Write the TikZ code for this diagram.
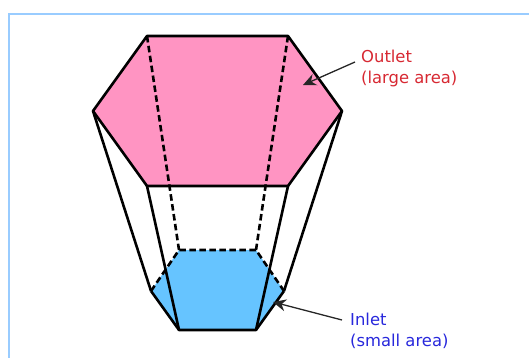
\documentclass[tikz,border=0pt]{standalone}
\usepackage{fontspec}
\setmainfont{DejaVu Sans}
\usepackage{tikz}
\usetikzlibrary{arrows.meta}
\definecolor{framecol}{RGB}{153,204,255}
\definecolor{outletcol}{RGB}{255,148,194}
\definecolor{inletcol}{RGB}{102,196,255}
\definecolor{outlettxt}{RGB}{215,40,50}
\definecolor{inlettxt}{RGB}{40,40,220}
\tikzset{edge/.style={black,line width=2.6pt,line join=round},
	hidden/.style={black,line width=2.6pt,dash pattern=on 6.5pt off 3.5pt},
	pointer/.style={black!85,line width=1.3pt,-{Stealth[length=13pt,width=12pt]}},
	label/.style={anchor=west,font=\fontsize{16.4}{21}\selectfont,align=left,inner sep=0pt}}

\begin{document}
\begin{tikzpicture}[x=1pt,y=-1pt]
	\useasboundingbox (0,0) rectangle (529,358);
	\draw[framecol,line width=2pt] (9,358)--(9,14)--(529,14);

	% outlet hexagon
	\coordinate (o1) at (147,36);
	\coordinate (o2) at (288,36);
	\coordinate (o3) at (342,111);
	\coordinate (o4) at (288,186);
	\coordinate (o5) at (147,186);
	\coordinate (o6) at (93,111);
	% inlet hexagon
	\coordinate (i1) at (179,250);
	\coordinate (i2) at (256,250);
	\coordinate (i3) at (284,291);
	\coordinate (i4) at (256,330);
	\coordinate (i5) at (179,330);
	\coordinate (i6) at (151,291);

	\fill[inletcol] (i1)--(i2)--(i3)--(i4)--(i5)--(i6)--cycle;
	\fill[outletcol] (o1)--(o2)--(o3)--(o4)--(o5)--(o6)--cycle;

	\draw[hidden] (o1)--(i1);
	\draw[hidden] (o2)--(i2);
	\draw[hidden] (i6)--(i1)--(i2)--(i3);

	\draw[edge] (o1)--(o2)--(o3)--(o4)--(o5)--(o6)--cycle;
	\draw[edge] (i3)--(i4)--(i5)--(i6);
	\draw[edge] (o6)--(i6);
	\draw[edge] (o5)--(i5);
	\draw[edge] (o4)--(i4);
	\draw[edge] (o3)--(i3);

	\node[label,outlettxt] (outlet) at (361,68.5) {Outlet\\(large area)};
	\node[label,inlettxt] (inlet) at (350,330.5) {Inlet\\(small area)};

	\coordinate (otip) at (303,85);
	\coordinate (itip) at (273,302);
	\coordinate (ostart) at (355,62);
	\coordinate (istart) at (342,320);
	\draw[pointer] (ostart)--(otip);
	\draw[pointer] (istart)--(itip);
\end{tikzpicture}
\end{document}
